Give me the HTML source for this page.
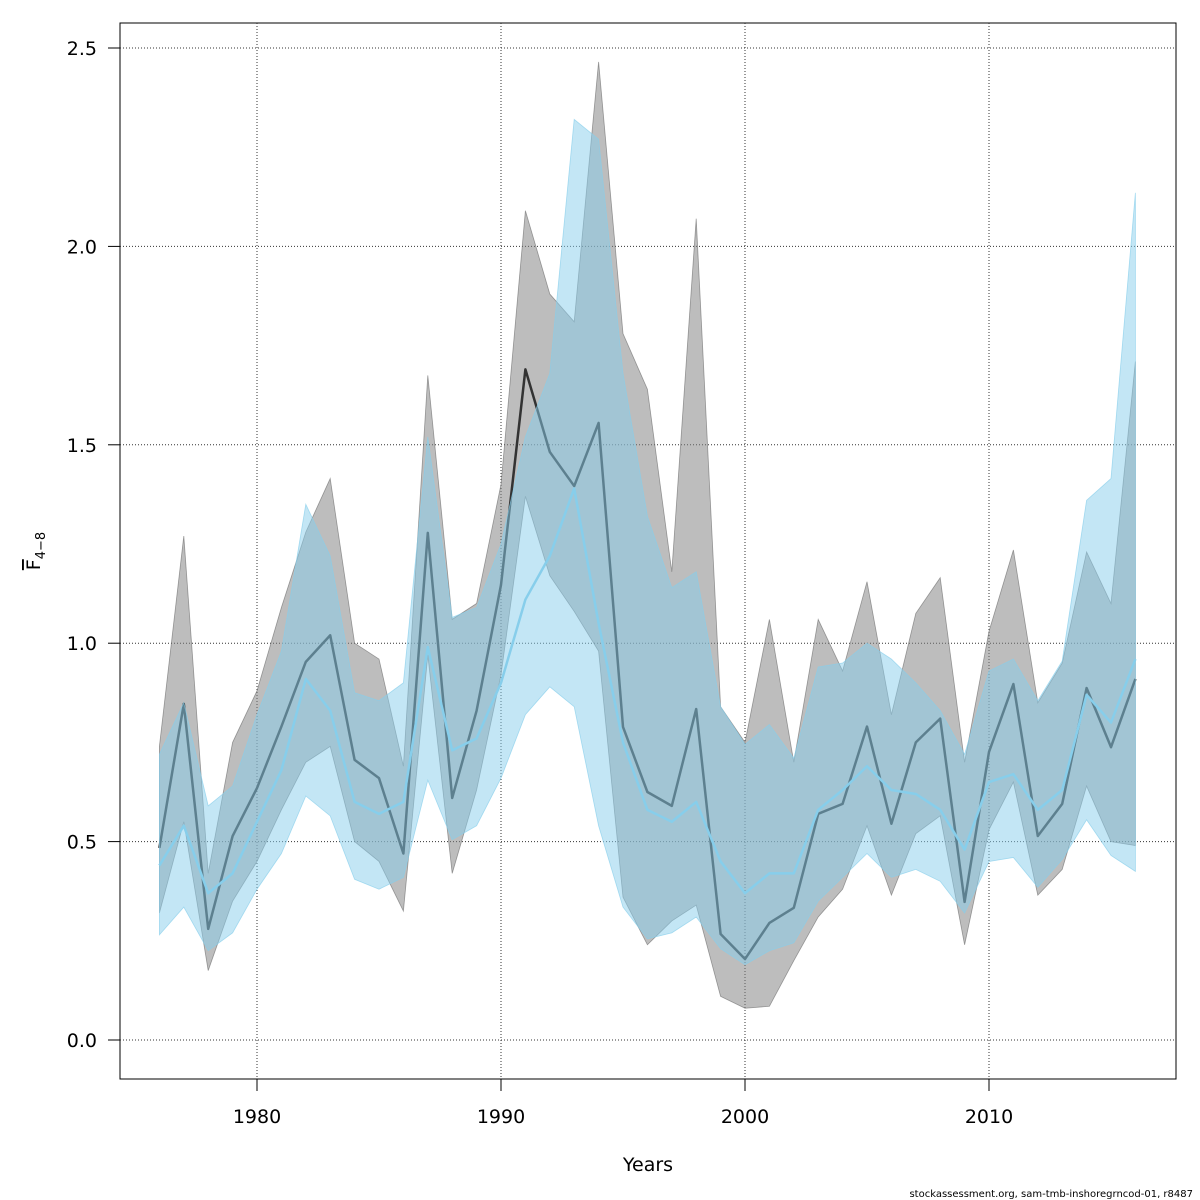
<!DOCTYPE html>
<html><head><meta charset="utf-8"><style>
html,body{margin:0;padding:0;background:#fff;}
svg{display:block;font-family:"DejaVu Sans","Liberation Sans",sans-serif;}
</style></head><body>
<svg id="chart" width="1200" height="1200" viewBox="0 0 1200 1200">
<rect x="120" y="23" width="1056" height="1056" fill="none" stroke="#000" stroke-width="1"/>
<g id="grid"></g>
<g id="layer"></g>
<g id="axes"></g>
<text x="648" y="1171" font-size="19" text-anchor="middle">Years</text>
<text transform="translate(40,551) rotate(-90)" font-size="19" text-anchor="middle"><tspan text-decoration="overline">F</tspan><tspan font-size="13" dy="5">4−8</tspan></text>
<text x="1193" y="1197" font-size="10" text-anchor="end">stockassessment.org, sam-tmb-inshoregrncod-01, r8487</text>
</svg>
<script>
const years = [];
for (let y = 1976; y <= 2016; y++) years.push(y);
const blackMid = [0.484,0.847,0.28,0.514,0.635,0.79,0.953,1.02,0.706,0.66,0.47,1.278,0.61,0.83,1.147,1.69,1.482,1.396,1.555,0.789,0.625,0.59,0.834,0.267,0.204,0.295,0.333,0.57,0.595,0.79,0.545,0.75,0.81,0.348,0.726,0.897,0.514,0.595,0.887,0.738,0.91];
const blackHi = [0.74,1.27,0.42,0.75,0.88,1.09,1.28,1.415,1.0,0.96,0.69,1.675,1.06,1.1,1.4,2.09,1.88,1.81,2.465,1.78,1.64,1.18,2.07,0.84,0.75,1.06,0.7,1.06,0.93,1.155,0.82,1.075,1.165,0.7,1.03,1.235,0.85,0.95,1.23,1.1,1.71];
const blackLo = [0.32,0.55,0.175,0.35,0.45,0.58,0.70,0.74,0.50,0.45,0.325,0.97,0.42,0.63,0.92,1.37,1.17,1.08,0.98,0.36,0.24,0.30,0.34,0.11,0.08,0.085,0.2,0.31,0.38,0.54,0.365,0.52,0.565,0.24,0.53,0.65,0.365,0.43,0.64,0.50,0.49];
const blueMid = [0.44,0.54,0.37,0.42,0.55,0.68,0.91,0.83,0.6,0.57,0.6,0.99,0.73,0.76,0.9,1.11,1.22,1.39,1.05,0.75,0.58,0.55,0.6,0.45,0.37,0.42,0.42,0.58,0.63,0.69,0.63,0.62,0.58,0.48,0.65,0.67,0.58,0.63,0.87,0.80,0.96];
const blueHi = [0.72,0.85,0.59,0.64,0.82,0.98,1.35,1.22,0.875,0.855,0.9,1.52,1.065,1.09,1.25,1.52,1.68,2.32,2.27,1.68,1.32,1.14,1.18,0.84,0.745,0.795,0.71,0.94,0.95,1.0,0.96,0.90,0.83,0.72,0.93,0.96,0.855,0.955,1.36,1.415,2.135];
const blueLo = [0.265,0.335,0.225,0.27,0.38,0.47,0.615,0.565,0.405,0.38,0.41,0.655,0.505,0.54,0.66,0.82,0.89,0.84,0.54,0.335,0.255,0.27,0.31,0.23,0.19,0.225,0.245,0.35,0.41,0.47,0.41,0.43,0.40,0.32,0.45,0.46,0.385,0.455,0.555,0.465,0.425];
const xTicks = [1980,1990,2000,2010];
const yTicks = [0,0.5,1,1.5,2,2.5];
const yTickLabels = ["0.0","0.5","1.0","1.5","2.0","2.5"];

const X = v => 257 + (v - 1980) * 24.4;
const Y = v => 1040 - v * 396.8;
const NS = "http://www.w3.org/2000/svg";
function mk(tag, parent, attrs){const e=document.createElementNS(NS,tag);for(const k in attrs)e.setAttribute(k,attrs[k]);parent.appendChild(e);return e;}
const grid=document.getElementById('grid'), layer=document.getElementById('layer'), axes=document.getElementById('axes');

xTicks.forEach(t=>{
  const l=mk('line',grid,{x1:X(t),x2:X(t),y1:23,y2:1079,stroke:'#333','stroke-dasharray':'1,2','stroke-width':1});
  
  
  const tk=mk('line',axes,{x1:X(t),x2:X(t),y1:1079,y2:1091,stroke:'#000'});
  
  
  const tx=mk('text',axes,{x:X(t),y:1123,'font-size':19,'text-anchor':'middle'});
  tx.textContent=t;
  
  
});
yTicks.forEach((t,i)=>{
  const l=mk('line',grid,{x1:120,x2:1176,y1:Y(t),y2:Y(t),stroke:'#333','stroke-dasharray':'1,2','stroke-width':1});
  
  
  const tk=mk('line',axes,{x1:108,x2:120,y1:Y(t),y2:Y(t),stroke:'#000'});
  
  
  const tx=mk('text',axes,{x:97,y:Y(t)+7,'font-size':19,'text-anchor':'end'});
  tx.textContent=yTickLabels[i];
  
  
});
function band(hi,lo,fill,stroke){
  let pts=years.map((y,i)=>X(y)+','+Y(hi[i]));
  pts=pts.concat(years.slice().reverse().map((y,j)=>X(y)+','+Y(lo[years.length-1-j])));
  return mk('polygon',layer,{points:pts.join(' '),fill:fill,stroke:stroke,'stroke-width':0.8});
}
function line(v,color,w){
  return mk('polyline',layer,{points:years.map((y,i)=>X(y)+','+Y(v[i])).join(' '),fill:'none',stroke:color,'stroke-width':w,'stroke-linejoin':'round'});
}
const b1=band(blackHi,blackLo,'rgba(128,128,128,0.52)','rgba(100,100,100,0.6)');


const l1=line(blackMid,'#333',2.5);


const b2=band(blueHi,blueLo,'rgba(135,206,235,0.5)','rgba(135,206,235,0.7)');


const l2=line(blueMid,'#87ceeb',2.5);


</script>
</body></html>
